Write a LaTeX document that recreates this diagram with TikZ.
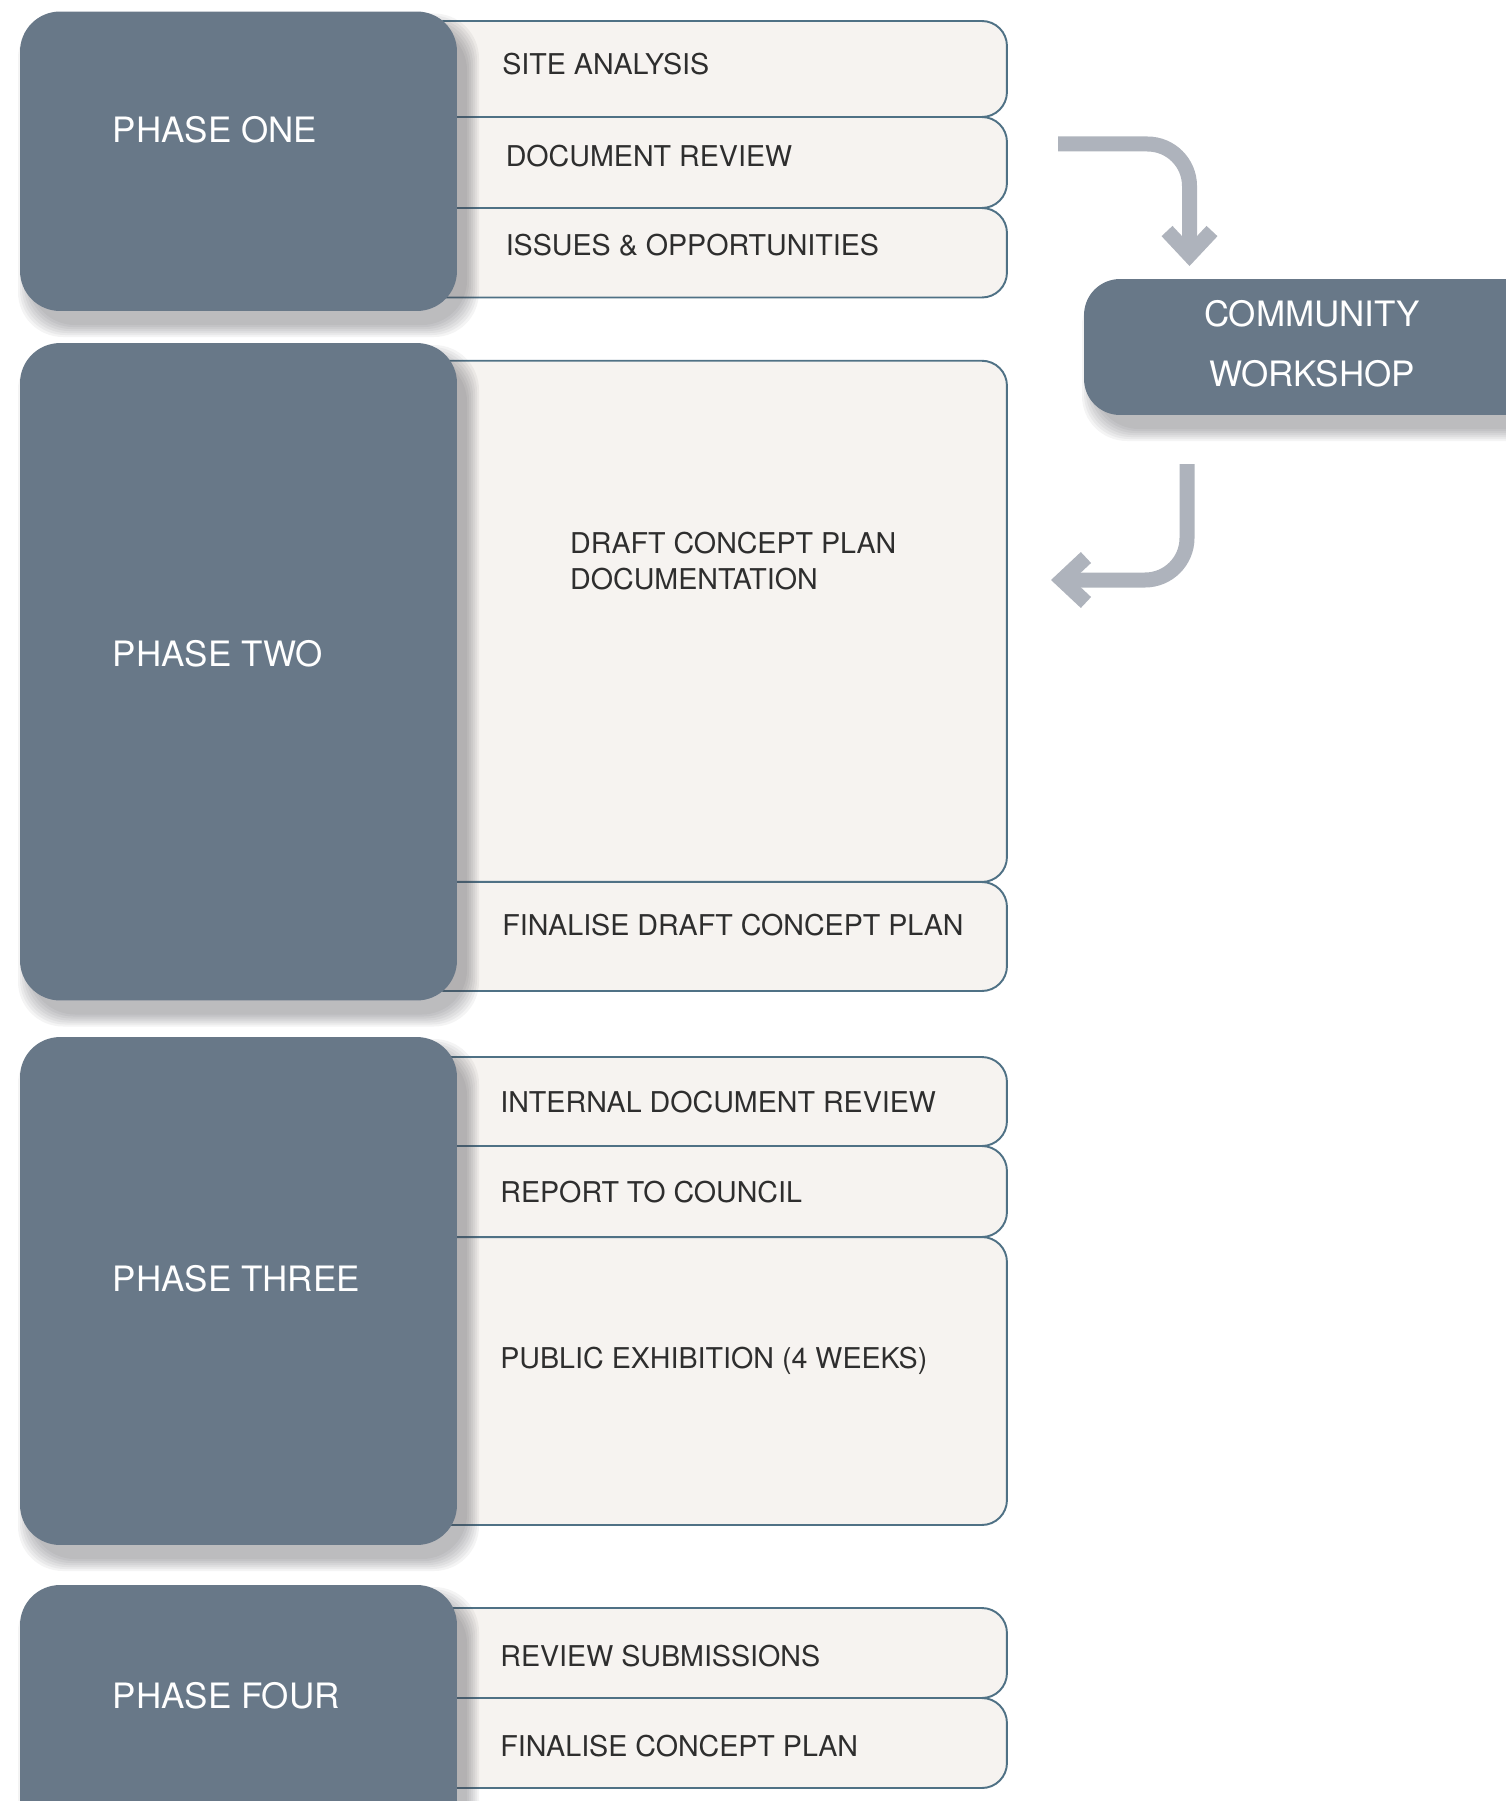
\documentclass[tikz,border=0pt]{standalone}
\usepackage{fontspec}
\setmainfont{TeX Gyre Heros}
\usetikzlibrary{arrows.meta}

\definecolor{phasegrey}{HTML}{687888}
\definecolor{taskfill}{HTML}{F6F3F0}
\definecolor{taskline}{HTML}{4F7185}
\definecolor{arrowgrey}{HTML}{AEB3BC}
\definecolor{shadegrey}{HTML}{3C3C44}
\definecolor{taskink}{HTML}{2E2E2E}

% soft shadow under a box: left, top, right, bottom (px)
\newcommand{\softshade}[4]{%
	\foreach \g in {0,2,...,12}
		\fill[shadegrey, opacity=0.06, rounded corners=0.9cm]
			({#1+10-\g},{#2+14-\g}) rectangle ({#3+10+\g},{#4+14+\g});
}

\begin{document}
\begin{tikzpicture}[x=0.02cm, y=-0.02cm,
		task/.style={draw=taskline, fill=taskfill, line width=1.1pt, rounded corners=0.5cm,
			minimum width=11.74cm, inner sep=0pt, outer sep=0pt},
		phase/.style={fill=phasegrey, rounded corners=0.8cm, minimum width=8.74cm, inner sep=0pt},
		tasktext/.style={anchor=west, text=taskink, inner sep=0pt, align=left,
			font=\fontsize{16.3}{20.5}\selectfont},
		phasetext/.style={anchor=west, text=white, inner sep=0pt,
			font=\fontsize{19.9}{24}\selectfont},
		flow/.style={draw=arrowgrey, line width=0.3cm, rounded corners=0.84cm,
			-{Straight Barb[sharp, length=0.48cm, width=0.9cm]}}
	]
	\useasboundingbox (0,0) rectangle (1506,1801);
	
	% task boxes
	\node[task, minimum height=1.92cm] (site) at (713.5, 69) {};
	\node[task, minimum height=1.82cm] (docrev) at (713.5, 162.5) {};
	\node[task, minimum height=1.79cm] (issues) at (713.5, 252.75) {};
	
	\node[task, minimum height=10.426cm] (draft) at (713.5, 621.35) {};
	\node[task, minimum height=2.18cm] (findraft) at (713.5, 936.5) {};
	
	\node[task, minimum height=1.78cm] (intrev) at (713.5, 1101.5) {};
	\node[task, minimum height=1.82cm] (report) at (713.5, 1191.5) {};
	\node[task, minimum height=5.76cm] (exhib) at (713.5, 1381) {};
	
	\node[task, minimum height=1.8cm] (subs) at (713.5, 1653) {};
	\node[task, minimum height=1.8cm] (final) at (713.5, 1743) {};
	
	\node[tasktext] (site-l) at (502, 64.3) {SITE ANALYSIS};
	\node[tasktext] (docrev-l) at (505.4, 156) {DOCUMENT REVIEW};
	\node[tasktext] (issues-l) at (505.4, 244.7) {ISSUES \& OPPORTUNITIES};
	\node[tasktext] (draft-l) at (569.8, 561) {DRAFT CONCEPT PLAN\\DOCUMENTATION};
	\node[tasktext] (findraft-l) at (502, 924.7) {FINALISE DRAFT CONCEPT PLAN};
	\node[tasktext] (intrev-l) at (500, 1101.6) {INTERNAL DOCUMENT REVIEW};
	\node[tasktext] (report-l) at (500, 1192) {REPORT TO COUNCIL};
	\node[tasktext] (exhib-l) at (500, 1361) {PUBLIC EXHIBITION (4 WEEKS)};
	\node[tasktext] (subs-l) at (500, 1656) {REVIEW SUBMISSIONS};
	\node[tasktext] (final-l) at (500, 1746) {FINALISE CONCEPT PLAN};
	
	% phase boxes
	\softshade{20}{11.5}{457}{311}
	\node[phase, minimum height=5.99cm] (ph1) at (238.5, 161.25) {};
	\softshade{20}{343}{457}{1000.5}
	\node[phase, minimum height=13.15cm] (ph2) at (238.5, 671.75) {};
	\softshade{20}{1037}{457}{1545}
	\node[phase, minimum height=10.16cm] (ph3) at (238.5, 1291) {};
	\softshade{20}{1585}{457}{1840}
	\node[phase, minimum height=5.1cm] (ph4) at (238.5, 1712.5) {};
	
	\node[phasetext] (ph1-l) at (112.6, 130) {PHASE ONE};
	\node[phasetext] (ph2-l) at (112.6, 654) {PHASE TWO};
	\node[phasetext] (ph3-l) at (112.6, 1278.5) {PHASE THREE};
	\node[phasetext] (ph4-l) at (112.6, 1695.5) {PHASE FOUR};
	
	% workshop
	\softshade{1084}{279}{1540}{415}
	\node[phase, minimum width=9.12cm, minimum height=2.72cm, rounded corners=0.72cm,
		text=white, align=center, text depth=0.14cm, font=\fontsize{19.9}{34}\selectfont]
		(workshop) at (1312, 347) {COMMUNITY\\WORKSHOP};
	
	\coordinate (a1s) at (1058, 144);
	\coordinate (a1e) at (1189.5, 266);
	\coordinate (a2s) at (1187, 464);
	\coordinate (a2e) at (1051, 580);
	
	\draw[flow] (a1s) -| (a1e);
	\draw[flow] (a2s) |- (a2e);
\end{tikzpicture}
\end{document}
